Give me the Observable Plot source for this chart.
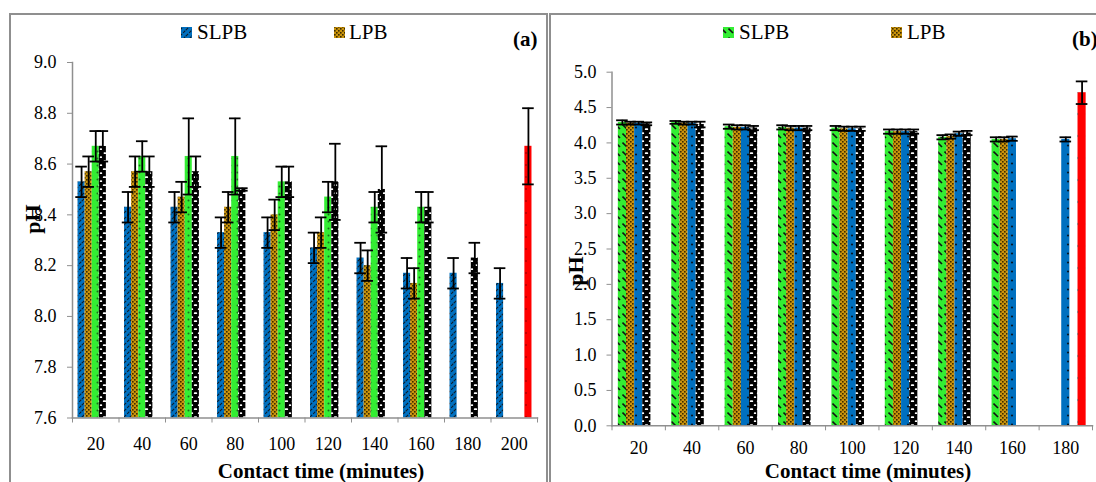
<!DOCTYPE html>
<html>
<head>
<meta charset="utf-8">
<script src="https://cdn.jsdelivr.net/npm/d3@7"></script>
<script src="https://cdn.jsdelivr.net/npm/@observablehq/plot@0.6"></script>
<style>
html, body { margin: 0; padding: 0; background: #fff; }
#page { position: relative; width: 1096px; height: 482px; overflow: hidden; background: #fff;
  font-family: "Liberation Serif", "Times New Roman", serif; color: #000; }
.border { position: absolute; box-sizing: border-box; border: 2px solid #8f8f8f; }
.chart { position: absolute; }
.chart svg { max-width: none !important; }
#overlay { position: absolute; left: 0; top: 0; pointer-events: none; }
</style>
</head>
<body>
<div id="page">
  <div class="border" style="left:9px;top:13px;width:539px;height:490px"></div>
  <div class="border" style="left:549px;top:13px;width:600px;height:490px"></div>
  <div class="chart" id="chartA" style="left:10px;top:15px;width:536px;height:467px"></div>
  <div class="chart" id="chartB" style="left:552px;top:15px;width:544px;height:467px"></div>
  <svg id="overlay" width="1096" height="482" font-family="'Liberation Serif', 'Times New Roman', serif">
    <defs>
      <pattern id="pBlueA" patternUnits="userSpaceOnUse" width="6" height="6">
        <rect width="6" height="6" fill="#0070c0"/>
        <path d="M-1,1 L1,-1 M0,6 L6,0 M5,7 L7,5" stroke="#0d1a26" stroke-width="1.1" stroke-dasharray="3 1.5"/>
      </pattern>
      <pattern id="pBrown" patternUnits="userSpaceOnUse" width="4" height="4">
        <rect width="4" height="4" fill="#c9930a"/>
        <rect x="0" y="0" width="1.6" height="1.6" fill="#3d2b00"/>
        <rect x="2" y="2" width="1.6" height="1.6" fill="#3d2b00"/>
      </pattern>
      <pattern id="pGreenA" patternUnits="userSpaceOnUse" width="7" height="7">
        <rect width="7" height="7" fill="#33ee33"/>
        <circle cx="3.5" cy="3.5" r="1" fill="#1b6b1b"/>
      </pattern>
      <pattern id="pBW" patternUnits="userSpaceOnUse" width="7" height="8">
        <rect width="7" height="8" fill="#000"/>
        <rect x="1.8" y="1.2" width="3.4" height="1.9" rx="0.95" fill="#fff"/>
        <rect x="-2" y="5.2" width="3.2" height="1.9" rx="0.95" fill="#fff"/>
        <rect x="5.8" y="5.2" width="3.2" height="1.9" rx="0.95" fill="#fff"/>
      </pattern>
      <pattern id="pRedA" patternUnits="userSpaceOnUse" width="8" height="12">
        <rect width="8" height="12" fill="#ff0000"/>
        <circle cx="4" cy="6" r="0.7" fill="#660000"/>
      </pattern>
      <pattern id="pGreenB" patternUnits="userSpaceOnUse" width="7" height="9">
        <rect width="7" height="9" fill="#33ee33"/>
        <path d="M0.5,1.5 L5,6" stroke="#111" stroke-width="1.6"/>
      </pattern>
      <pattern id="pBlueB" patternUnits="userSpaceOnUse" width="8" height="9">
        <rect width="8" height="9" fill="#0070c0"/>
        <circle cx="4" cy="4.5" r="1.1" fill="#061525"/>
      </pattern>
      <pattern id="pRedB" patternUnits="userSpaceOnUse" width="10" height="22">
        <rect width="10" height="22" fill="#ff0000"/>
        <circle cx="5" cy="11" r="1.2" fill="#330000"/>
      </pattern>
    </defs>
    <!-- legends & labels (panel a) -->
    <rect x="181" y="27" width="11" height="11" fill="url(#pBlueA)"/>
    <text x="197" y="39" font-size="21">SLPB</text>
    <rect x="334" y="27" width="11" height="11" fill="url(#pBrown)"/>
    <text x="349" y="39" font-size="21">LPB</text>
    <text x="513" y="46" font-size="21" font-weight="bold">(a)</text>
    <text transform="translate(40,219) rotate(-90)" text-anchor="middle" font-size="22" font-weight="bold">pH</text>
    <text x="321" y="478" text-anchor="middle" font-size="21" font-weight="bold">Contact time (minutes)</text>
    <!-- legends & labels (panel b) -->
    <rect x="723" y="27" width="11" height="11" fill="url(#pGreenB)"/>
    <text x="739" y="39" font-size="21">SLPB</text>
    <rect x="891" y="27" width="11" height="11" fill="url(#pBrown)"/>
    <text x="907" y="39" font-size="21">LPB</text>
    <text x="1072" y="46" font-size="21" font-weight="bold">(b)</text>
    <text transform="translate(583,271) rotate(-90)" text-anchor="middle" font-size="22" font-weight="bold">pH</text>
    <text x="868" y="478" text-anchor="middle" font-size="21" font-weight="bold">Contact time (minutes)</text>
  </svg>
</div>
<script>
// ---------- Panel (a) data ----------
const timesA = [20, 40, 60, 80, 100, 120, 140, 160, 180, 200];
const seriesA = ["SLPB", "LPB", "Series 3", "Series 4", "Series 5"];
const aSLPB    = [8.53, 8.43, 8.43, 8.33, 8.33, 8.27, 8.23, 8.17, 8.17, 8.13];
const aSLPBErr = [0.06, 0.06, 0.06, 0.06, 0.06, 0.06, 0.06, 0.06, 0.06, 0.06];
const aLPB     = [8.57, 8.57, 8.47, 8.43, 8.40, 8.33, 8.20, 8.13, null, null];
const aLPBErr  = [0.06, 0.06, 0.06, 0.06, 0.06, 0.06, 0.06, 0.06, null, null];
const aS3      = [8.67, 8.63, 8.63, 8.63, 8.53, 8.47, 8.43, 8.43, null, null];
const aS3Err   = [0.06, 0.06, 0.15, 0.15, 0.06, 0.06, 0.06, 0.06, null, null];
const aS4      = [8.67, 8.57, 8.57, 8.50, 8.53, 8.53, 8.50, 8.43, 8.23, null];
const aS4Err   = [0.06, 0.06, 0.06, 0.005, 0.06, 0.15, 0.17, 0.06, 0.06, null];
const aS5      = [null, null, null, null, null, null, null, null, null, 8.67];
const aS5Err   = [null, null, null, null, null, null, null, null, null, 0.15];
const yTicksA  = [7.6, 7.8, 8.0, 8.2, 8.4, 8.6, 8.8, 9.0];

// ---------- Panel (b) data ----------
const timesB = [20, 40, 60, 80, 100, 120, 140, 160, 180];
const seriesB = ["SLPB", "LPB", "Series 3", "Series 4", "Series 5"];
const bSLPB    = [4.29, 4.29, 4.23, 4.22, 4.21, 4.16, 4.08, 4.05, null];
const bSLPBErr = [0.03, 0.02, 0.03, 0.03, 0.03, 0.03, 0.03, 0.03, null];
const bLPB     = [4.28, 4.28, 4.22, 4.21, 4.20, 4.16, 4.09, 4.05, null];
const bLPBErr  = [0.02, 0.02, 0.03, 0.03, 0.03, 0.03, 0.03, 0.03, null];
const bS3      = [4.28, 4.28, 4.22, 4.21, 4.20, 4.16, 4.13, 4.06, 4.05];
const bS3Err   = [0.02, 0.02, 0.03, 0.03, 0.03, 0.03, 0.03, 0.03, 0.03];
const bS4      = [4.27, 4.26, 4.21, 4.21, 4.20, 4.16, 4.14, null, null];
const bS4Err   = [0.02, 0.04, 0.03, 0.03, 0.03, 0.03, 0.03, null, null];
const bS5      = [null, null, null, null, null, null, null, null, 4.71];
const bS5Err   = [null, null, null, null, null, null, null, null, 0.16];
const yTicksB  = [0, 0.5, 1.0, 1.5, 2.0, 2.5, 3.0, 3.5, 4.0, 4.5, 5.0];

const fillsA = ["url(#pBlueA)", "url(#pBrown)", "url(#pGreenA)", "url(#pBW)", "url(#pRedA)"];
const fillsB = ["url(#pGreenB)", "url(#pBrown)", "url(#pBlueB)", "url(#pBW)", "url(#pRedB)"];

const GRAY = "#8f8f8f";

function panel(cfg) {
  const {times, series, values, errs, fills, yDomain, yTicks, width, height, ml, mr, mt, mb, tickPad, xPad} = cfg;
  const cats = times.map(String);
  const n = cats.length;
  const step = (width - ml - mr) / n;
  const p = 0.78;                       // outer gap, in bar widths
  const slot = step / (series.length + 2 * p);
  const capHalf = 5.8;
  const barMarks = [], errMarks = [];
  series.forEach((s, i) => {
    const rows = cats.map((t, j) => ({series: s, time: t, value: values[i][j], err: errs[i][j]}))
                     .filter(d => d.value != null);
    const left = slot * (p + i);
    const center = left + slot / 2;
    barMarks.push(Plot.barY(rows, {
      x: "time", y: "value", fill: fills[i],
      insetLeft: left, insetRight: step - left - slot, clip: true
    }));
    errMarks.push(Plot.ruleX(rows, {
      x: "time", y1: d => d.value - d.err, y2: d => d.value + d.err,
      dx: center - step / 2, stroke: "#000", strokeWidth: 1.8
    }));
    for (const sign of [1, -1]) {
      errMarks.push(Plot.tickY(rows, {
        x: "time", y: d => d.value + sign * d.err,
        insetLeft: center - capHalf, insetRight: step - center - capHalf,
        stroke: "#000", strokeWidth: 1.8
      }));
    }
  });
  return Plot.plot({
    width, height,
    marginLeft: ml, marginRight: mr, marginTop: mt, marginBottom: mb,
    style: {fontFamily: "'Liberation Serif', 'Times New Roman', serif", fontSize: "18px",
            background: "transparent", overflow: "visible", color: "#000"},
    x: {type: "band", domain: cats, padding: 0, round: false},
    y: {domain: yDomain},
    marks: [
      ...barMarks,
      ...errMarks,
      Plot.frame({anchor: "left", stroke: GRAY, strokeWidth: 1.5}),
      Plot.frame({anchor: "bottom", stroke: GRAY, strokeWidth: 1.5}),
      Plot.axisY({ticks: yTicks, tickFormat: d3.format(".1f"), tickSize: 5, tickPadding: tickPad,
                  stroke: GRAY, fill: "#000", fontSize: 18, label: null}),
      Plot.axisX({tickSize: 0, tickPadding: xPad, fill: "#000", fontSize: 18, label: null}),
      Plot.axisX({tickSize: 5, tickFormat: () => "", dx: -step / 2, stroke: GRAY, label: null}),
      Plot.axisX({ticks: [cats[n - 1]], tickSize: 5, tickFormat: () => "", dx: step / 2, stroke: GRAY, label: null})
    ]
  });
}

document.getElementById("chartA").append(panel({
  times: timesA, series: seriesA,
  values: [aSLPB, aLPB, aS3, aS4, aS5],
  errs: [aSLPBErr, aLPBErr, aS3Err, aS4Err, aS5Err],
  fills: fillsA, yDomain: [7.6, 9.0], yTicks: yTicksA,
  width: 536, height: 467, ml: 62, mr: 9, mt: 47, mb: 64.5, tickPad: 11, xPad: 19
}));

document.getElementById("chartB").append(panel({
  times: timesB, series: seriesB,
  values: [bSLPB, bLPB, bS3, bS4, bS5],
  errs: [bSLPBErr, bLPBErr, bS3Err, bS4Err, bS5Err],
  fills: fillsB, yDomain: [0, 5.0], yTicks: yTicksB,
  width: 544, height: 467, ml: 59.5, mr: 4, mt: 56.7, mb: 56.7, tickPad: 10.5, xPad: 15
}));
</script>
</body>
</html>
